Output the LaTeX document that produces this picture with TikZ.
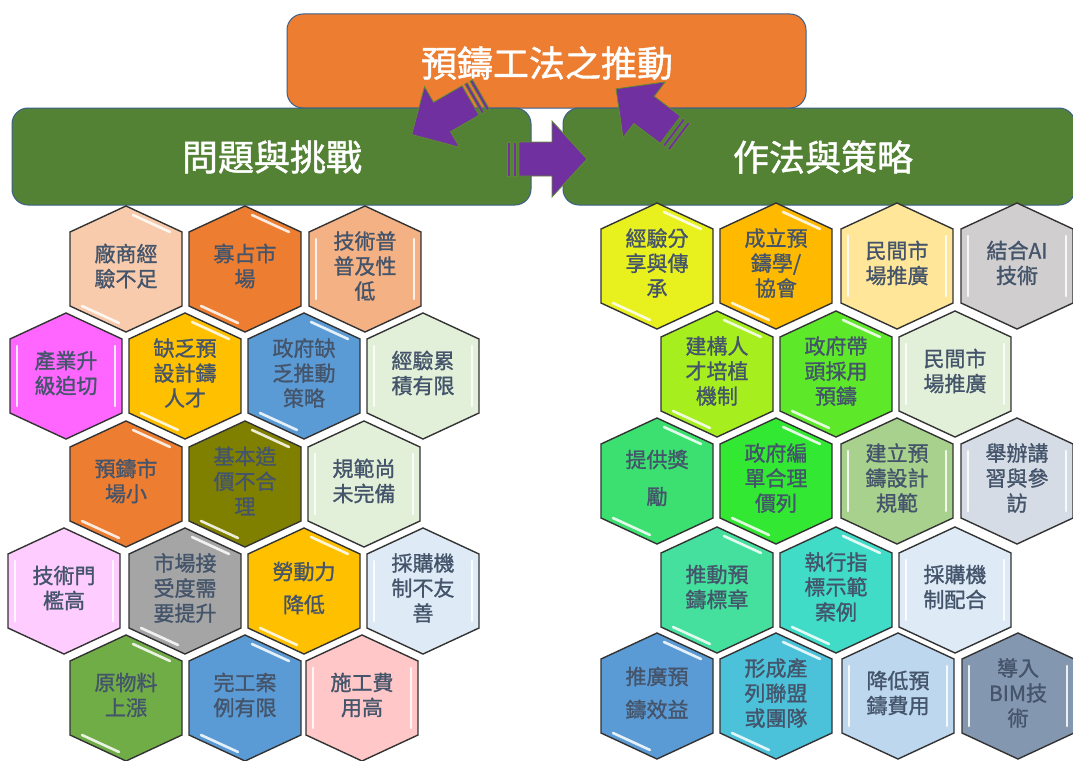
\documentclass[tikz,border=0pt]{standalone}
\usepackage{fontspec}
\newfontfamily\cjk{Noto Sans CJK TC}[FakeBold=1.2]
\definecolor{txt}{HTML}{44546A}
\definecolor{boxorange}{HTML}{ED7D31}
\definecolor{boxgreen}{HTML}{548235}
\definecolor{boxline}{HTML}{3A5F8A}
\definecolor{arrowfill}{HTML}{7030A0}
\definecolor{arrowline}{HTML}{5E8C31}
\tikzset{
  roundbox/.style={draw=boxline,line width=1pt,rounded corners=16pt},
  headtext/.style={font=\cjk\fontsize{36}{40}\selectfont,text=white,inner sep=0pt},
  hexline/.style={draw=black!80,line width=1.4pt,line join=miter},
  hilite/.style={draw=white,line width=2.6pt,line cap=round,opacity=0.85},
  hextext/.style={font=\cjk\fontsize{21}{25}\selectfont,text=txt,align=center,inner sep=0pt},
  blockarrow/.style={fill=arrowfill,draw=arrowline,line width=0.8pt,line join=miter}
}
\newcommand\hlS[2]{\draw[hilite] (#1+7,#2-54) -- (#1+44,#2-37); \draw[hilite] (#1-44,#2+37) -- (#1-7,#2+54);}
\newcommand\hlV[2]{\draw[hilite] (#1-49,#2-30) -- (#1-49,#2+30); \draw[hilite] (#1+49,#2-30) -- (#1+49,#2+30);}
% #1 name, #2 x, #3 y, #4 colour (HTML), #5 S or V, #6 text
\newcommand\hexcell[6]{%
  \definecolor{hexfill}{HTML}{#4}%
  \path[hexline,fill=hexfill] (#2,#3-63) -- (#2+56,#3-37) -- (#2+56,#3+37) -- (#2,#3+63) -- (#2-56,#3+37) -- (#2-56,#3-37) -- cycle;
  \csname hl#5\endcsname{#2}{#3}
  \node[hextext] (#1) at (#2,#3-3) {#6};
}
% #1 head half width
\newcommand\stripedarrow[1]{%
  \path[blockarrow] (0,-17) rectangle (3,17);
  \path[blockarrow] (6,-17) rectangle (9,17);
  \path[blockarrow] (12,-17) -- (45,-17) -- (45,-#1) -- (80,0) -- (45,#1) -- (45,17) -- (12,17) -- cycle;
}
\begin{document}
\begin{tikzpicture}[x=1pt,y=-1pt]
\useasboundingbox (0,0) rectangle (1073,760);
\fill[white] (0,0) rectangle (1073,760);
% header boxes
\path[roundbox,fill=boxorange] (287,14) rectangle (806,108);
\node[headtext] (title) at (547,63) {預鑄工法之推動};
\path[roundbox,fill=boxgreen] (12,108) rectangle (531,205);
\path[roundbox,fill=boxgreen] (563,108) rectangle (1075,205);
\node[headtext] (prob) at (272,157) {問題與挑戰};
\node[headtext] (meth) at (823,157) {作法與策略};
% arrows
\begin{scope}[shift={(481,94.5)},rotate=210]\stripedarrow{35}\end{scope}
\begin{scope}[shift={(507,159)}]\stripedarrow{38}\end{scope}
\begin{scope}[shift={(680,137)},rotate=143]\stripedarrow{35}\end{scope}
% left hexagons
\hexcell{L1}{126}{269}{F8CBAD}{S}{廠商經\\驗不足}
\hexcell{L2}{245}{269}{ED7D31}{S}{寡占市\\場}
\hexcell{L3}{365}{269}{F4B183}{V}{技術普\\普及性\\低}
\hexcell{L4}{66}{376}{FF66FF}{V}{產業升\\級迫切}
\hexcell{L5}{185}{376}{FFC000}{S}{缺乏預\\設計鑄\\人才}
\hexcell{L6}{304}{376}{5B9BD5}{S}{政府缺\\乏推動\\策略}
\hexcell{L7}{423}{376}{E2F0D9}{V}{經驗累\\積有限}
\hexcell{L8}{126}{484}{ED7D31}{S}{預鑄市\\場小}
\hexcell{L9}{245}{484}{808000}{S}{基本造\\價不合\\理}
\hexcell{L10}{364}{484}{E2F0D9}{V}{規範尚\\未完備}
\hexcell{L11}{64}{591}{FFCCFF}{V}{技術門\\檻高}
\hexcell{L12}{185}{591}{A5A5A5}{S}{市場接\\受度需\\要提升}
\hexcell{L13}{304}{591}{FFC000}{S}{勞動力\\[8pt]降低}
\hexcell{L14}{423}{591}{DEEBF7}{V}{採購機\\制不友\\善}
\hexcell{L15}{126}{698}{70AD47}{S}{原物料\\上漲}
\hexcell{L16}{245}{698}{5B9BD5}{S}{完工案\\例有限}
\hexcell{L17}{362}{698}{FFC7C7}{V}{施工費\\用高}
% right hexagons
\hexcell{R1}{657}{266}{E8F01E}{S}{經驗分\\享與傳\\承}
\hexcell{R2}{776}{266}{FFBA00}{S}{成立預\\鑄學/\\協會}
\hexcell{R3}{897}{266}{FFE699}{V}{民間市\\場推廣}
\hexcell{R4}{1017}{266}{D0CECE}{V}{結合AI\\技術}
\hexcell{R5}{717}{374}{A6EE1E}{S}{建構人\\才培植\\機制}
\hexcell{R6}{836}{374}{5EE82A}{S}{政府帶\\頭採用\\預鑄}
\hexcell{R7}{955}{374}{E2F0D9}{V}{民間市\\場推廣}
\hexcell{R8}{657}{481}{3CE070}{S}{提供獎\\[12pt]勵}
\hexcell{R9}{776}{481}{33E833}{S}{政府編\\單合理\\價列}
\hexcell{R10}{897}{481}{A9D18E}{V}{建立預\\鑄設計\\規範}
\hexcell{R11}{1017}{481}{D6DCE5}{V}{舉辦講\\習與參\\訪}
\hexcell{R12}{717}{590}{45E09E}{S}{推動預\\鑄標章}
\hexcell{R13}{836}{590}{40DCC8}{S}{執行指\\標示範\\案例}
\hexcell{R14}{955}{590}{DEEBF7}{V}{採購機\\制配合}
\hexcell{R15}{657}{696}{5B9BD5}{S}{推廣預\\[8pt]鑄效益}
\hexcell{R16}{776}{696}{4CC2DA}{S}{形成產\\列聯盟\\或團隊}
\hexcell{R17}{898}{696}{BDD7EE}{V}{降低預\\鑄費用}
\hexcell{R18}{1018}{696}{8497B0}{V}{導入\\BIM技\\術}
\end{tikzpicture}
\end{document}
